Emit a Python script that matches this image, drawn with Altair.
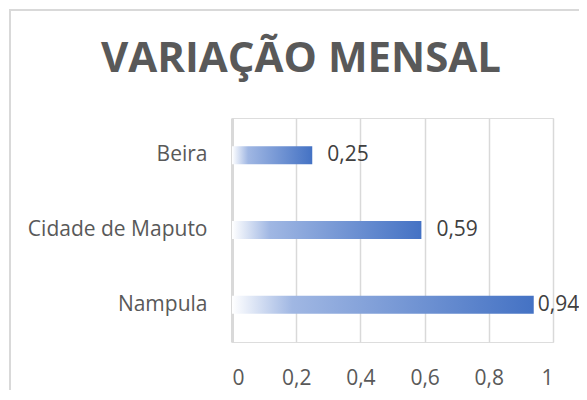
import altair as alt
import pandas as pd

categories = ["Beira", "Cidade de Maputo", "Nampula"]
values = [0.25, 0.59, 0.94]
x_ticks = [0, 0.2, 0.4, 0.6, 0.8, 1]
title_text = "VARIAÇÃO MENSAL"

df = pd.DataFrame({"cidade": categories, "valor": values})
df["rotulo"] = [f"{v:.2f}".replace(".", ",") for v in values]

FONT = "Open Sans"
GRAY = "#595959"

gradient = alt.Gradient(
    gradient="linear",
    stops=[
        alt.GradientStop(color="#ffffff", offset=0),
        alt.GradientStop(color="#a0b7e3", offset=0.2),
        alt.GradientStop(color="#4472c4", offset=1),
    ],
    x1=0, x2=1, y1=0, y2=0,
)

x_enc = alt.X(
    "valor:Q",
    scale=alt.Scale(domain=[0, 1], nice=False),
    axis=alt.Axis(
        values=x_ticks,
        title=None,
        domain=False,
        ticks=False,
        grid=True,
        gridColor="#d9d9d9",
        gridWidth=1.5,
        labelFont=FONT,
        labelFontSize=21,
        labelColor=GRAY,
        labelPadding=25,
        labelExpr="replace(format(datum.value, '~g'), '.', ',')",
    ),
)
y_enc = alt.Y(
    "cidade:N",
    sort=categories,
    scale=alt.Scale(paddingInner=0.76, paddingOuter=0.38),
    axis=alt.Axis(
        title=None,
        ticks=False,
        domain=True,
        domainColor="#d9d9d9",
        domainWidth=3,
        grid=False,
        labelFont=FONT,
        labelFontSize=21,
        labelColor=GRAY,
        labelPadding=25,
    ),
)

one = pd.DataFrame({"t": [title_text]})

border = alt.Chart(one).mark_rect(
    filled=False, stroke="#d9d9d9", strokeWidth=2
).encode(
    x=alt.value(-222), x2=alt.value(500), y=alt.value(-108), y2=alt.value(400)
)

title = alt.Chart(one).mark_text(
    font=FONT, fontSize=42, fontWeight="bold", color=GRAY,
    align="center", baseline="alphabetic",
).encode(x=alt.value(69), y=alt.value(-46), text="t:N")

bars = alt.Chart(df).mark_bar(color=gradient, size=18).encode(x=x_enc, y=y_enc)

label_base = alt.Chart(df).encode(
    x="valor:Q", y=alt.Y("cidade:N", sort=categories), text="rotulo:N"
)
labels_free = label_base.transform_filter("datum.valor < 0.9").mark_text(
    align="left", baseline="middle", dx=15, font=FONT, fontSize=21, color="#404040"
)
labels_edge = label_base.transform_filter("datum.valor >= 0.9").mark_text(
    align="left", baseline="middle", dx=4, font=FONT, fontSize=21, color="#404040"
)

chart = alt.layer(border, title, bars, labels_free, labels_edge).properties(
    width=321,
    height=224,
    autosize=alt.AutoSizeParams(type="none"),
    padding={"left": 224, "top": 110, "right": 26, "bottom": 48},
).configure_view(stroke=None).configure(background="white")

chart.save("out.html", embed_options={"renderer": "svg", "actions": False})
